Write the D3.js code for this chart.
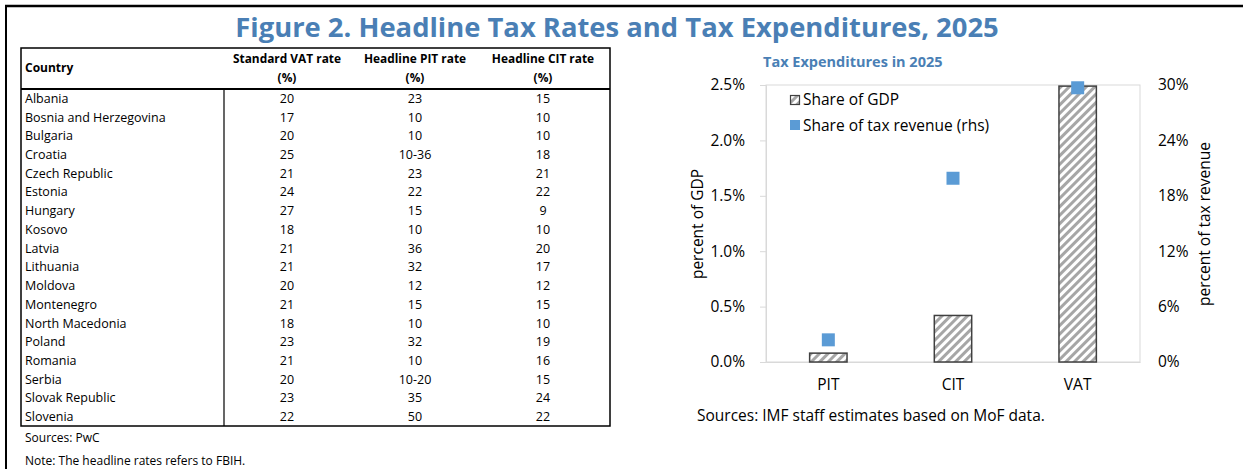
<!DOCTYPE html>
<html>
<head>
<meta charset="utf-8">
<script src="https://cdn.jsdelivr.net/npm/d3@7"></script>
<style>
  body { margin: 0; background: #fff; }
  text { font-family: "Open Sans", "Noto Sans", sans-serif; fill: #000; }
  .axis-gray path, .axis-gray line { stroke: #d9d9d9; }
</style>
</head>
<body>
<svg id="fig" width="1243" height="469"></svg>
<script>
// table data
var countries = ["Albania", "Bosnia and Herzegovina", "Bulgaria", "Croatia", "Czech Republic", "Estonia",
  "Hungary", "Kosovo", "Latvia", "Lithuania", "Moldova", "Montenegro", "North Macedonia", "Poland",
  "Romania", "Serbia", "Slovak Republic", "Slovenia"];
var vatRates = ["20", "17", "20", "25", "21", "24", "27", "18", "21", "21", "20", "21", "18", "23", "21", "20", "23", "22"];
var pitRates = ["23", "10", "10", "10-36", "23", "22", "15", "10", "36", "32", "12", "15", "10", "32", "10", "10-20", "35", "50"];
var citRates = ["15", "10", "10", "18", "21", "22", "9", "10", "20", "17", "12", "15", "10", "19", "16", "15", "24", "22"];
var tableHeaders = ["Standard VAT rate", "Headline PIT rate", "Headline CIT rate"];

// chart data
var taxTypes = ["PIT", "CIT", "VAT"];
var shareGdp = [0.08, 0.42, 2.49];
var shareRevenue = [2.4, 19.9, 29.7];
var gdpTicks = [0, 0.5, 1.0, 1.5, 2.0, 2.5];
var revenueTicks = [0, 6, 12, 18, 24, 30];

var BLUE_TITLE = "#4a7fb5";
var BLUE_MARK = "#5b9bd5";

document.addEventListener("DOMContentLoaded", function() {
  var svg = d3.select("#fig");
  drawFrame(svg);
  drawTable(svg);
  drawChart(svg);
});

function drawFrame(svg) {
  svg.append("line").attr("x1", 5).attr("x2", 1243).attr("y1", 6).attr("y2", 6)
    .attr("stroke", "#000").attr("stroke-width", 2.5);
  svg.append("line").attr("x1", 6).attr("x2", 6).attr("y1", 5).attr("y2", 469)
    .attr("stroke", "#000").attr("stroke-width", 2);

  svg.append("text")
    .attr("x", 617).attr("y", 37)
    .attr("text-anchor", "middle")
    .style("font-size", "27.4px").style("font-weight", 700)
    .style("fill", BLUE_TITLE)
    .text("Figure 2. Headline Tax Rates and Tax Expenditures, 2025");
}

function drawTable(svg) {
  var left = 21, right = 610, top = 48, headBottom = 89, bottom = 426, sep = 224;
  var colX = [287, 415, 543];

  var y = d3.scaleBand().domain(countries).range([headBottom, bottom]);

  var g = svg.append("g");
  g.append("rect").attr("x", left).attr("y", top)
    .attr("width", right - left).attr("height", bottom - top)
    .attr("fill", "none").attr("stroke", "#000").attr("stroke-width", 1.5);
  g.append("line").attr("x1", left).attr("x2", right).attr("y1", headBottom).attr("y2", headBottom)
    .attr("stroke", "#000").attr("stroke-width", 2);
  g.append("line").attr("x1", sep).attr("x2", sep).attr("y1", headBottom).attr("y2", bottom)
    .attr("stroke", "#000").attr("stroke-width", 1.2);

  g.append("text").attr("x", 25).attr("y", 72)
    .style("font-size", "12px").style("font-weight", 700).text("Country");

  g.selectAll(".hdr").data(tableHeaders).enter().append("text")
    .attr("class", "hdr")
    .attr("x", (d, i) => colX[i]).attr("y", 63)
    .attr("text-anchor", "middle")
    .style("font-size", "11.9px").style("font-weight", 700)
    .text((d) => d);
  g.selectAll(".pct").data(tableHeaders).enter().append("text")
    .attr("class", "pct")
    .attr("x", (d, i) => colX[i]).attr("y", 82)
    .attr("text-anchor", "middle")
    .style("font-size", "11.9px").style("font-weight", 700)
    .text("(%)");

  var cols = [vatRates, pitRates, citRates];
  var row = g.selectAll(".row").data(countries).enter().append("g")
    .attr("class", "row")
    .attr("transform", (d) => "translate(0," + (y(d) + y.bandwidth() / 2 + 4.5) + ")");

  row.append("text").attr("x", 25)
    .style("font-size", "12.5px")
    .text((d) => d);

  cols.forEach(function(col, c) {
    row.append("text").attr("x", colX[c])
      .attr("text-anchor", "middle")
      .style("font-size", "12.5px")
      .text((d, i) => col[i]);
  });

  svg.append("text").attr("x", 25).attr("y", 442).style("font-size", "12px").text("Sources: PwC");
  svg.append("text").attr("x", 25).attr("y", 465).style("font-size", "12px").text("Note: The headline rates refers to FBIH.");
}

function drawChart(svg) {
  var x0 = 766, x1 = 1140, y0 = 362, y1 = 85;

  var x = d3.scaleBand().domain(taxTypes).range([x0, x1]).paddingInner(0.7).paddingOuter(0.35);
  var yL = d3.scaleLinear().domain([0, 2.5]).range([y0, y1]);
  var yR = d3.scaleLinear().domain([0, 30]).range([y0, y1]);

  var defs = svg.append("defs");
  var pat = defs.append("pattern").attr("id", "hatch")
    .attr("patternUnits", "userSpaceOnUse")
    .attr("width", 6).attr("height", 6)
    .attr("patternTransform", "rotate(45)");
  pat.append("rect").attr("width", 6).attr("height", 6).attr("fill", "#fff");
  pat.append("rect").attr("width", 3).attr("height", 6).attr("fill", "#a6a6a6");

  svg.append("text").attr("x", 763).attr("y", 67)
    .style("font-size", "14.5px").style("font-weight", 700).style("fill", BLUE_TITLE)
    .text("Tax Expenditures in 2025");

  // plot box
  svg.append("rect").attr("x", x0).attr("y", y1)
    .attr("width", x1 - x0).attr("height", y0 - y1)
    .attr("fill", "none").attr("stroke", "#d9d9d9").attr("stroke-width", 1);

  var gl = svg.append("g").attr("class", "axis-gray")
    .attr("transform", "translate(" + x0 + ",0)")
    .call(d3.axisLeft(yL).tickValues(gdpTicks).tickSize(6).tickPadding(15)
      .tickFormat((d) => d3.format(".1f")(d) + "%"));
  gl.selectAll("text").style("font-size", "15.5px").style("fill", "#000")
    .style("font-family", "\"Open Sans\", sans-serif");

  var gr = svg.append("g").attr("class", "axis-gray")
    .attr("transform", "translate(" + x1 + ",0)")
    .call(d3.axisRight(yR).tickValues(revenueTicks).tickSize(0).tickPadding(18)
      .tickFormat((d) => d + "%"));
  gr.select(".domain").remove();
  gr.selectAll("text").style("font-size", "15.5px").style("fill", "#000")
    .style("font-family", "\"Open Sans\", sans-serif");

  var gb = svg.append("g").attr("class", "axis-gray")
    .attr("transform", "translate(0," + y0 + ")")
    .call(d3.axisBottom(x).tickSize(0).tickPadding(17));
  gb.selectAll("text").style("font-size", "15.5px").style("fill", "#000")
    .style("font-family", "\"Open Sans\", sans-serif");

  svg.selectAll(".bar").data(shareGdp).enter().append("rect")
    .attr("class", "bar")
    .attr("x", (d, i) => x(taxTypes[i]))
    .attr("y", (d) => yL(d))
    .attr("width", x.bandwidth())
    .attr("height", (d) => y0 - yL(d))
    .attr("fill", "url(#hatch)")
    .attr("stroke", "#404040").attr("stroke-width", 1.5);

  var s = 13;
  svg.selectAll(".mark").data(shareRevenue).enter().append("rect")
    .attr("class", "mark")
    .attr("x", (d, i) => x(taxTypes[i]) + x.bandwidth() / 2 - s / 2)
    .attr("y", (d) => yR(d) - s / 2)
    .attr("width", s).attr("height", s)
    .attr("fill", BLUE_MARK);

  // legend
  svg.append("rect").attr("x", 790.5).attr("y", 95.5).attr("width", 9).attr("height", 9)
    .attr("fill", "url(#hatch)").attr("stroke", "#404040").attr("stroke-width", 1.2);
  svg.append("text").attr("x", 803).attr("y", 105).style("font-size", "15.5px").text("Share of GDP");
  svg.append("rect").attr("x", 790).attr("y", 120).attr("width", 10).attr("height", 10)
    .attr("fill", BLUE_MARK);
  svg.append("text").attr("x", 803).attr("y", 131).style("font-size", "15.5px").text("Share of tax revenue (rhs)");

  svg.append("text")
    .attr("transform", "translate(703,224) rotate(-90)")
    .attr("text-anchor", "middle")
    .style("font-size", "15.5px").text("percent of GDP");
  svg.append("text")
    .attr("transform", "translate(1210,224) rotate(-90)")
    .attr("text-anchor", "middle")
    .style("font-size", "15.5px").text("percent of tax revenue");

  svg.append("text").attr("x", 697).attr("y", 421)
    .style("font-size", "15.5px").text("Sources: IMF staff estimates based on MoF data.");
}
</script>
</body>
</html>
